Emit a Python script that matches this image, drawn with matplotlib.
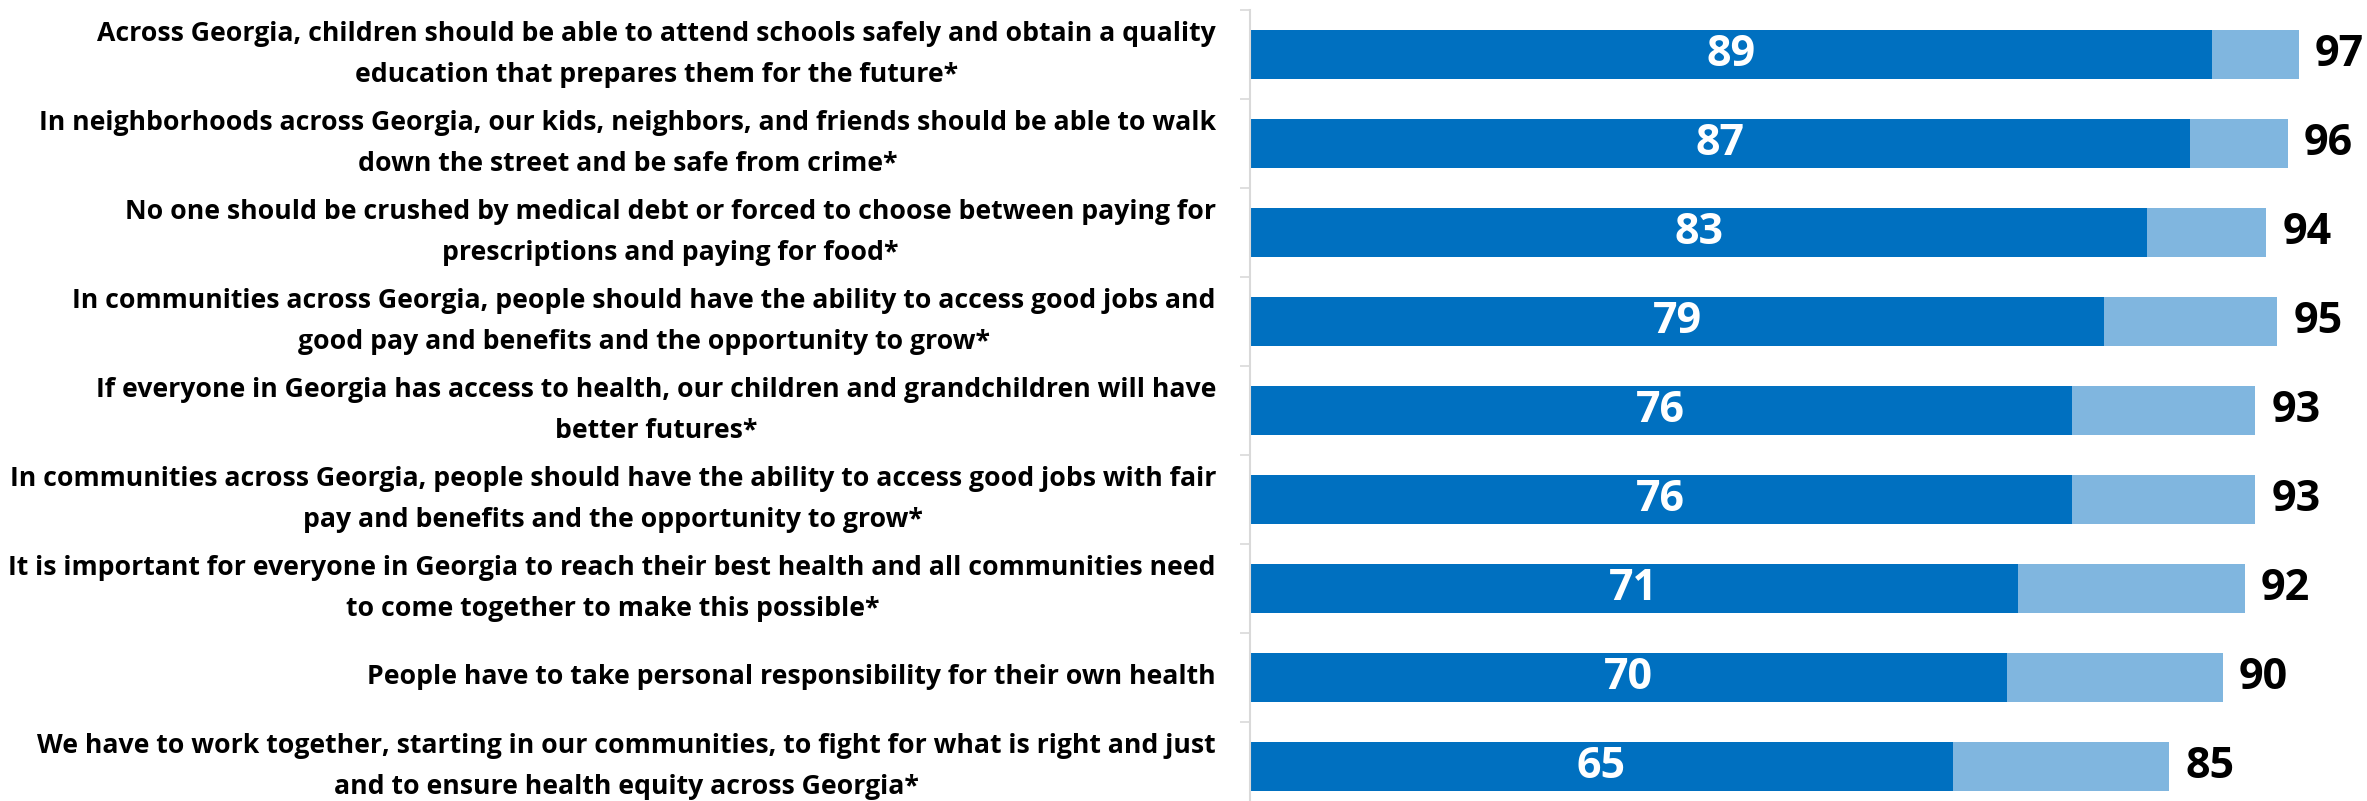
import matplotlib.pyplot as plt
from matplotlib.transforms import ScaledTranslation

statements = [
    "Across Georgia, children should be able to attend schools safely and obtain a quality\neducation that prepares them for the future*",
    "In neighborhoods across Georgia, our kids, neighbors, and friends should be able to walk\ndown the street and be safe from crime*",
    "No one should be crushed by medical debt or forced to choose between paying for\nprescriptions and paying for food*",
    "In communities across Georgia, people should have the ability to access good jobs and\ngood pay and benefits and the opportunity to grow*",
    "If everyone in Georgia has access to health, our children and grandchildren will have\nbetter futures*",
    "In communities across Georgia, people should have the ability to access good jobs with fair\npay and benefits and the opportunity to grow*",
    "It is important for everyone in Georgia to reach their best health and all communities need\nto come together to make this possible*",
    "People have to take personal responsibility for their own health",
    "We have to work together, starting in our communities, to fight for what is right and just\nand to ensure health equity across Georgia*",
]
strongly_agree = [89, 87, 83, 79, 76, 76, 71, 70, 65]
total_agree = [97, 96, 94, 95, 93, 93, 92, 90, 85]

dark = "#0070C0"
light = "#80B6DF"
font = ["Open Sans", "DejaVu Sans"]

W, H = 2367, 801
fig = plt.figure(figsize=(W / 100, H / 100), dpi=100)
ax = fig.add_axes([1250 / W, -10 / H, 1117 / W, 1.0])

y = list(range(len(statements)))
somewhat = [t - s for t, s in zip(total_agree, strongly_agree)]
ax.barh(y, strongly_agree, height=0.54, color=dark)
ax.barh(y, somewhat, left=strongly_agree, height=0.54, color=light)

for i in y:
    ax.text(strongly_agree[i] / 2, i, str(strongly_agree[i]), ha="center", va="center",
            color="white", fontsize=31, fontweight="bold", family=font)
    ax.text(total_agree[i] + 1.5, i, str(total_agree[i]), ha="left", va="center",
            color="black", fontsize=31, fontweight="bold", family=font)

# statement labels, right-aligned against the axis, lines centred
for i, s in enumerate(statements):
    tr = ax.get_yaxis_transform() + ScaledTranslation(-34 / 100, 0, fig.dpi_scale_trans)
    ax.text(0, i, s, transform=tr, ha="right", va="center", multialignment="center",
            fontsize=19.2, fontweight="bold", family=font, linespacing=1.72)

ax.set_xlim(0, 1117 / 10.81)
ax.set_ylim(len(statements) - 0.5, -0.5)

ax.set_yticks([i - 0.5 for i in range(len(statements) + 1)])
ax.set_yticklabels([])
ax.tick_params(axis="y", length=7, width=1.2, color="#D9D9D9")

ax.set_xticks([])
for side in ["top", "right", "bottom"]:
    ax.spines[side].set_visible(False)
ax.spines["left"].set_color("#D9D9D9")
ax.spines["left"].set_linewidth(1.5)

fig.savefig("out.png", dpi=100)
